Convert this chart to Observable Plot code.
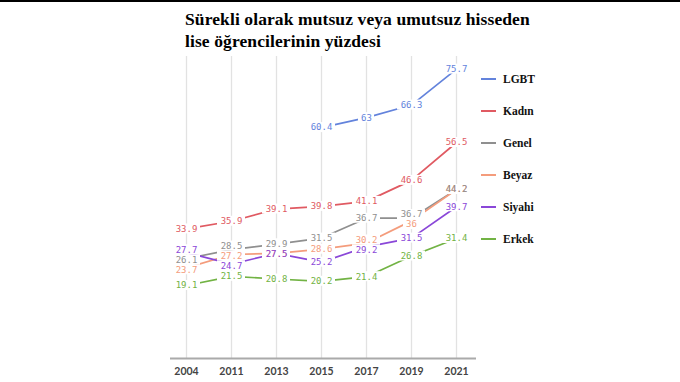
<!DOCTYPE html>
<html>
<head>
<meta charset="utf-8">
<script src="https://cdn.jsdelivr.net/npm/d3@7"></script>
<script src="https://cdn.jsdelivr.net/npm/@observablehq/plot@0.6"></script>
<style>
  html, body { margin: 0; padding: 0; background: #fff; }
  body { width: 680px; height: 382px; position: relative; overflow: hidden; }
  #topbar { position: absolute; left: 0; top: 0; width: 680px; height: 2px; background: #000; }
  #title { position: absolute; left: 185px; top: 8px; font-family: "Liberation Serif", serif; font-weight: bold; font-size: 17.5px; line-height: 22px; color: #000; letter-spacing: 0.1px; }
  #chart { position: absolute; left: 0; top: 53px; }
  #legend { position: absolute; left: 481px; top: 0; }
  .item { position: absolute; left: 0; width: 90px; height: 14px; }
  .sw { position: absolute; left: 0; top: 6px; width: 15px; height: 2px; }
  .lab { position: absolute; left: 22px; top: 0; font-family: "Liberation Serif", serif; font-weight: bold; font-size: 11.5px; line-height: 14px; color: #111; }
</style>
</head>
<body>
<div id="topbar"></div>
<div id="title">Sürekli olarak mutsuz veya umutsuz hisseden<br>lise öğrencilerinin yüzdesi</div>
<div id="chart"></div>
<div id="legend"></div>
<script>
const years = ["2004", "2011", "2013", "2015", "2017", "2019", "2021"];
const seriesNames = ["LGBT", "Kadın", "Genel", "Beyaz", "Siyahi", "Erkek"];
const seriesColors = ["#6383dc", "#e05a62", "#8f8f8f", "#f49c7c", "#8a47d8", "#72b344"];
const lgbt   = [null, null, null, 60.4, 63, 66.3, 75.7];
const kadin  = [33.9, 35.9, 39.1, 39.8, 41.1, 46.6, 56.5];
const genel  = [26.1, 28.5, 29.9, 31.5, 36.7, 36.7, 44.2];
const beyaz  = [23.7, 27.2, 27.5, 28.6, 30.2, 36, 44.2];
const siyahi = [27.7, 24.7, 27.5, 25.2, 29.2, 31.5, 39.7];
const erkek  = [19.1, 21.5, 20.8, 20.2, 21.4, 26.8, 31.4];
const seriesValues = [lgbt, kadin, genel, beyaz, siyahi, erkek];

const yMax = 79, plotH = 302;
const unitsPerPx = yMax / plotH;

const rows = [];
seriesNames.forEach((name, i) => {
  seriesValues[i].forEach((v, j) => {
    if (v != null) rows.push({series: name, year: years[j], value: v, label: String(v), labelY: v});
  });
});

// simple label dodge per year column (equal values stay stacked)
const minGapUnits = 10 * unitsPerPx;
years.forEach(yr => {
  const groupsMap = new Map();
  rows.filter(d => d.year === yr).forEach(d => {
    if (!groupsMap.has(d.value)) groupsMap.set(d.value, []);
    groupsMap.get(d.value).push(d);
  });
  const groups = [...groupsMap.entries()].map(([v, items]) => ({pos: v, items}));
  groups.sort((a, b) => b.pos - a.pos);
  for (let it = 0; it < 60; it++) {
    for (let k = 0; k < groups.length - 1; k++) {
      const a = groups[k], b = groups[k + 1];
      const gap = a.pos - b.pos;
      if (gap < minGapUnits) {
        const push = (minGapUnits - gap) / 2;
        a.pos += push; b.pos -= push;
      }
    }
  }
  groups.forEach(g => g.items.forEach(d => d.labelY = g.pos));
});

// label draw order: Beyaz below Genel and Siyahi
const labelOrder = ["LGBT", "Kadın", "Beyaz", "Genel", "Siyahi", "Erkek"];
const labelRows = rows.slice().sort((a, b) => labelOrder.indexOf(a.series) - labelOrder.indexOf(b.series));
const shortRows = labelRows.filter(d => d.label.length <= 2);
const longRows = labelRows.filter(d => d.label.length > 2);

const labelFont = "'DejaVu Sans Mono', 'Liberation Mono', monospace";
const knockout = (data, half) => Plot.rect(data, {
  x1: "year", x2: "year", y1: "labelY", y2: "labelY", fill: "white",
  insetLeft: -half, insetRight: -half, insetTop: -5, insetBottom: -5
});

const chart = Plot.plot({
  width: 680,
  height: 329,
  marginTop: 3,
  marginBottom: 24,
  marginLeft: 170,
  marginRight: 204,
  x: {type: "point", domain: years, range: [185, 456], padding: 0, label: null},
  y: {domain: [0, yMax], axis: null},
  color: {domain: seriesNames, range: seriesColors},
  style: {fontFamily: "Lato, sans-serif", background: "#fff"},
  marks: [
    Plot.ruleX(years, {x: d => d, y1: 0, y2: yMax, stroke: "#e2e2e2", strokeWidth: 1.3}),
    Plot.ruleY([0], {stroke: "#aaaaaa", strokeWidth: 2}),
    Plot.axisX({tickSize: 0, tickPadding: 9, fontSize: 10.5, fontWeight: "bold", fill: "#444", fontFamily: "Lato, sans-serif", label: null}),
    Plot.line(rows, {x: "year", y: "value", z: "series", stroke: "series", strokeWidth: 1.7}),
    knockout(longRows, 14),
    knockout(shortRows, 8),
    Plot.text(labelRows, {
      x: "year", y: "labelY", text: "label", fill: "series",
      fontFamily: labelFont, fontSize: 9
    })
  ]
});
document.getElementById("chart").appendChild(chart);

const legend = document.getElementById("legend");
const legendY = [72, 104, 136, 168, 200, 232];
seriesNames.forEach((name, i) => {
  const item = document.createElement("div");
  item.className = "item";
  item.style.top = legendY[i] + "px";
  const sw = document.createElement("div");
  sw.className = "sw";
  sw.style.background = seriesColors[i];
  const lab = document.createElement("div");
  lab.className = "lab";
  lab.textContent = name;
  item.appendChild(sw);
  item.appendChild(lab);
  legend.appendChild(item);
});
</script>
</body>
</html>
